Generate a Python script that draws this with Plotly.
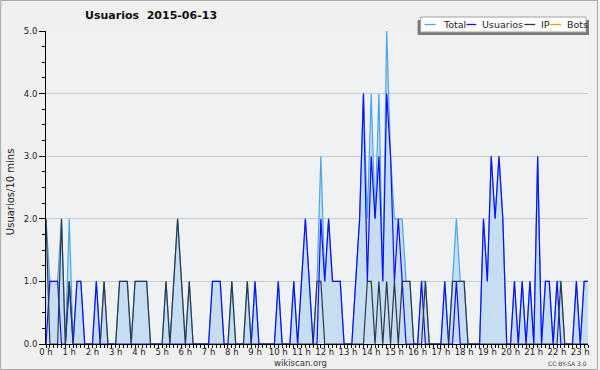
import plotly.graph_objects as go

# 10-minute slots from 00:00 to 23:20
usuarios = [0,1,1,1,0,0,1,0,1,1, 0,0,0,1,0,0,0,0,0,0,
            0,0,0,0,0,0,0,0,0,0, 0,0,0,0,0,0,0,0,0,0,
            0,0,0,1,1,1,0,0,0,0, 0,0,0,0,1,0,0,0,0,0,
            1,0,0,0,1,0,1,2,1,0, 0,2,1,2,1,1,1,0,0,0,
            1,2,4,1,3,2,3,1,4,3, 1,2,1,0,0,0,0,1,0,0,
            0,0,0,1,0,0,1,0,0,0, 0,0,0,2,1,3,2,3,2,0,
            0,1,0,1,0,1,0,3,0,1, 1,0,1,0,0,0,0,1,0,1,
            1]
ip = [2,0,0,0,2,0,1,0,0,0, 0,0,0,0,0,1,0,0,0,1,
      1,1,0,1,1,1,1,0,0,0, 0,1,0,1,2,1,0,1,0,0,
      0,0,0,0,0,0,0,0,1,0, 0,0,1,0,0,0,0,0,0,0,
      0,0,0,0,0,0,0,0,0,0, 1,1,0,0,0,0,0,0,0,0,
      0,0,0,1,1,0,1,0,1,0, 1,0,1,1,1,0,0,0,1,0,
      0,0,0,0,0,1,1,1,1,0, 0,0,0,0,0,0,0,0,0,0,
      0,0,0,0,0,0,0,0,0,0, 0,0,0,1,0,0,0,0,0,0,
      0]
bots = [0] * len(usuarios)
total = [u + i + b for u, i, b in zip(usuarios, ip, bots)]
hours = [k / 6 for k in range(len(usuarios))]
hour_ticks = list(range(24))
hour_labels = [f"{h} h" for h in hour_ticks]

W, H = 600, 370
L, R, T, B = 46, 590, 31, 344

def px(xp):
    return (xp - L) / (R - L)

def py(yp):
    return (B - yp) / (B - T)

FONT = "DejaVu Sans"

fig = go.Figure()
fig.add_trace(go.Scatter(x=hours, y=bots, mode="lines", line=dict(color="#ff9900", width=1.2), name="Bots"))
fig.add_trace(go.Scatter(x=hours, y=total, mode="lines", fill="tozeroy", fillcolor="#c7ddf1",
                         line=dict(color="#4aa6ec", width=1.2), name="Total"))
fig.add_trace(go.Scatter(x=hours, y=usuarios, mode="lines", line=dict(color="#1010ff", width=1.2), name="Usuarios"))
fig.add_trace(go.Scatter(x=hours, y=ip, mode="lines", line=dict(color="#2e3a46", width=1.2), name="IP"))

shapes = []
# outer border
shapes.append(dict(type="rect", xref="paper", yref="paper", x0=px(0.5), x1=px(599.5), y0=py(369.5), y1=py(0.5),
                   line=dict(color="#a8a8a8", width=1), fillcolor="rgba(0,0,0,0)", layer="above"))
# legend shadow and box
shapes.append(dict(type="rect", xref="paper", yref="paper", x0=px(419), x1=px(591), y0=py(35), y1=py(20),
                   line=dict(width=0), fillcolor="#7a7a7a", layer="above"))
shapes.append(dict(type="rect", xref="paper", yref="paper", x0=px(422), x1=px(588), y0=py(32), y1=py(17),
                   line=dict(color="#a0a0a0", width=1), fillcolor="#ffffff", layer="above"))
legend_items = [("Total", "#4aa6ec", 426, 437, 443),
                ("Usuarios", "#1010ff", 468, 478, 483),
                ("IP", "#2e3a46", 526, 537, 542),
                ("Bots", "#ff9900", 552, 563, 568)]
annotations = []
for name, col, a, b, tx in legend_items:
    shapes.append(dict(type="line", xref="paper", yref="paper", x0=px(a), x1=px(b), y0=py(24.5), y1=py(24.5),
                       line=dict(color=col, width=1.3), layer="above"))
    annotations.append(dict(text=name, xref="paper", yref="paper", x=px(tx - 1), y=py(24.5), xanchor="left",
                            yanchor="middle", showarrow=False, font=dict(family=FONT, size=9.5, color="#222222")))

annotations.append(dict(text="<b>Usuarios&nbsp;&nbsp;2015-06-13</b>", xref="paper", yref="paper", x=px(151), y=py(16),
                        xanchor="center", yanchor="middle", showarrow=False,
                        font=dict(family=FONT, size=11, color="#111111")))
annotations.append(dict(text="Usuarios/10 mins", xref="paper", yref="paper", x=px(10), y=py(192), textangle=-90,
                        xanchor="center", yanchor="middle", showarrow=False,
                        font=dict(family=FONT, size=10, color="#222222")))
annotations.append(dict(text="wikiscan.org", xref="paper", yref="paper", x=px(301), y=py(362.5),
                        xanchor="center", yanchor="middle", showarrow=False,
                        font=dict(family=FONT, size=8.5, color="#333333")))
annotations.append(dict(text="CC BY-SA 3.0", xref="paper", yref="paper", x=px(591), y=py(363),
                        xanchor="right", yanchor="middle", showarrow=False,
                        font=dict(family=FONT, size=6, color="#444444")))

fig.update_layout(
    width=W, height=H,
    margin=dict(l=L, r=W - R, t=T, b=H - B, pad=0),
    paper_bgcolor="#f0f0f0", plot_bgcolor="#f0f1f3",
    showlegend=False,
    shapes=shapes, annotations=annotations,
    xaxis=dict(range=[0, hours[-1]], tickvals=hour_ticks, ticktext=hour_labels,
               ticks="outside", ticklen=3, tickcolor="#000000", tickwidth=1, ticklabelstandoff=-3,
               showline=True, linecolor="#000000", linewidth=1, showgrid=False, zeroline=False,
               tickfont=dict(family=FONT, size=8.5, color="#222222"),
               minor=dict(dtick=1/6, tick0=0, ticks="outside", ticklen=3, tickcolor="#000000", showgrid=False)),
    yaxis=dict(range=[0, 5], dtick=1, tickformat=".1f",
               ticks="outside", ticklen=6, tickcolor="#000000", tickwidth=1,
               showline=True, linecolor="#000000", linewidth=1,
               showgrid=True, gridcolor="#cccccc", gridwidth=1, zeroline=False,
               tickfont=dict(family=FONT, size=8.5, color="#222222"),
               minor=dict(dtick=0.25, ticks="outside", ticklen=3, tickcolor="#000000", showgrid=False)),
)

fig.write_html("out.html", config={"displayModeBar": False},
               post_script="document.body.style.margin='0';document.body.style.overflow='hidden';")
